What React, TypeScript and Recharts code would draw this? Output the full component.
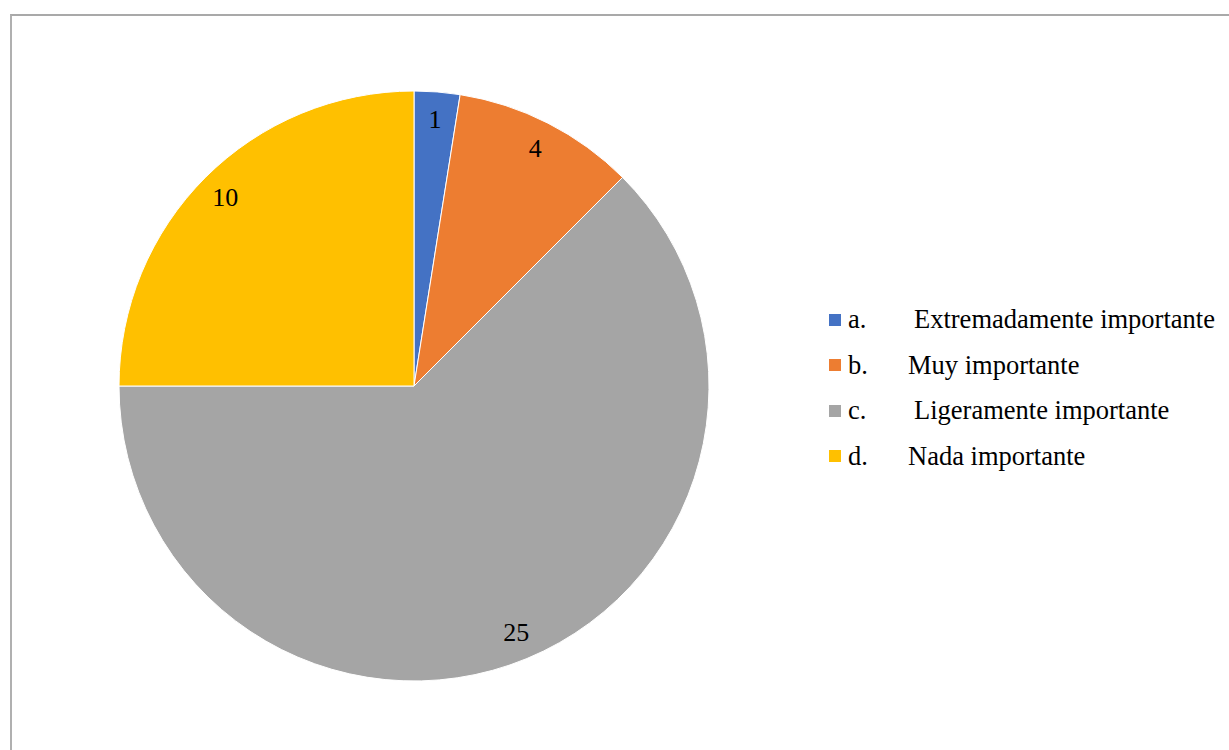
import { Cell, Pie, PieChart } from "recharts";

const letters = ["a.", "b.", "c.", "d."];
const categories = [
  "Extremadamente importante",
  "Muy importante",
  "Ligeramente importante",
  "Nada importante",
];
const counts = [1, 4, 25, 10];
const colors = ["#4472C4", "#ED7D31", "#A5A5A5", "#FFC000"];

const chartData = categories.map((name, i) => ({
  name,
  letter: letters[i],
  value: counts[i],
  color: colors[i],
}));

const RADIAN = Math.PI / 180;
const FONT = "'Liberation Serif', 'Times New Roman', serif";

function renderLabel(props: any) {
  const { cx, cy, midAngle, outerRadius, value } = props;
  const r = outerRadius * 0.905;
  const x = cx + r * Math.cos(-midAngle * RADIAN);
  const y = cy + r * Math.sin(-midAngle * RADIAN);
  return (
    <text
      x={x}
      y={y}
      textAnchor="middle"
      dominantBaseline="central"
      fill="#000"
      fontSize={26}
      fontFamily={FONT}
    >
      {value}
    </text>
  );
}

// legend sits right of the pie, outside the svg so it doesn't shift the plot
function PieLegend() {
  return (
    <div
      style={{
        position: "absolute",
        left: 829,
        top: 297,
        fontFamily: FONT,
        fontSize: 26.5,
        color: "#000",
      }}
    >
      {chartData.map((d, i) => (
        <div
          key={d.name}
          style={{ display: "flex", alignItems: "center", height: 45.5 }}
        >
          <span
            style={{
              display: "inline-block",
              flexShrink: 0,
              width: 12,
              height: 12,
              background: d.color,
              marginRight: 7,
            }}
          />
          <span
            style={{
              display: "inline-block",
              flexShrink: 0,
              width: i % 2 === 0 ? 66 : 60,
            }}
          >
            {d.letter}
          </span>
          <span style={{ whiteSpace: "nowrap" }}>{d.name}</span>
        </div>
      ))}
    </div>
  );
}

export default function App() {
  return (
    <div
      style={{
        position: "fixed",
        left: 0,
        top: 0,
        width: 1229,
        height: 750,
        background: "#fff",
        overflow: "hidden",
      }}
    >
      <div
        style={{
          position: "absolute",
          left: 10,
          top: 14,
          width: 1240,
          height: 760,
          borderTop: "2px solid #A9A9A9",
          borderLeft: "2px solid #B0B0B0",
        }}
      />
      <div style={{ position: "absolute", left: 0, top: 0 }}>
        <PieChart
          width={1229}
          height={750}
          margin={{ top: 0, right: 0, bottom: 0, left: 0 }}
        >
          <Pie
            data={chartData}
            dataKey="value"
            nameKey="name"
            cx={414}
            cy={386}
            outerRadius={295}
            startAngle={90}
            endAngle={-270}
            stroke="#fff"
            strokeWidth={1}
            label={renderLabel}
            labelLine={false}
            isAnimationActive={false}
          >
            {chartData.map((d) => (
              <Cell key={d.name} fill={d.color} />
            ))}
          </Pie>
        </PieChart>
      </div>
      <PieLegend />
    </div>
  );
}
